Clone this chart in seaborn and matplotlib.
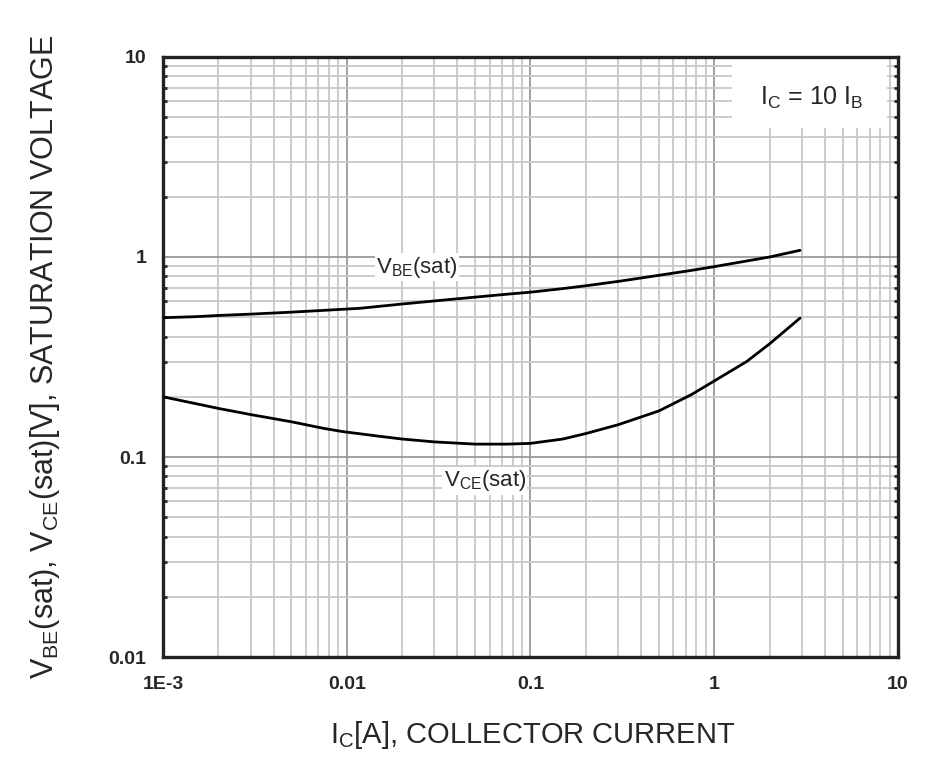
import numpy as np
import pandas as pd
import matplotlib
matplotlib.use("Agg")
import matplotlib.pyplot as plt
import matplotlib.ticker as mticker
from matplotlib.patches import Rectangle
import seaborn as sns

# ---------------------------------------------------------
# data (Ic = 10 Ib)
# ---------------------------------------------------------
ic_vbe = [0.001, 0.0015, 0.002, 0.003, 0.005, 0.0075, 0.0118, 0.02, 0.03, 0.05,
          0.075, 0.1, 0.15, 0.2, 0.3, 0.5, 0.75, 1.0, 1.5, 2.0, 2.93]
vbe_sat = [0.497, 0.503, 0.51, 0.518, 0.53, 0.541, 0.554, 0.582, 0.603, 0.63,
           0.652, 0.667, 0.695, 0.718, 0.755, 0.81, 0.857, 0.895, 0.955, 1.0, 1.08]

ic_vce = [0.001, 0.0015, 0.002, 0.003, 0.005, 0.0075, 0.0095, 0.015, 0.02, 0.03,
          0.05, 0.075, 0.1, 0.15, 0.2, 0.3, 0.5, 0.75, 1.0, 1.5, 2.0, 2.93]
vce_sat = [0.2, 0.185, 0.175, 0.163, 0.15, 0.139, 0.134, 0.127, 0.123, 0.119,
           0.116, 0.116, 0.117, 0.123, 0.131, 0.145, 0.17, 0.205, 0.24, 0.30, 0.368, 0.495]

x_ticks = [0.001, 0.01, 0.1, 1, 10]
x_labels = ["1E-3", "0.01", "0.1", "1", "10"]
y_ticks = [0.01, 0.1, 1, 10]
y_labels = ["0.01", "0.1", "1", "10"]

# ---------------------------------------------------------
# style
# ---------------------------------------------------------
sns.set_style("white")
plt.rcParams["font.family"] = ["Liberation Sans", "DejaVu Sans"]
plt.rcParams["mathtext.fontset"] = "custom"
plt.rcParams["mathtext.rm"] = "Liberation Sans"
plt.rcParams["mathtext.it"] = "Liberation Sans"

df = pd.concat([
    pd.DataFrame({"Ic": ic_vbe, "V": vbe_sat, "curve": "VBE"}),
    pd.DataFrame({"Ic": ic_vce, "V": vce_sat, "curve": "VCE"}),
])

fig = plt.figure(figsize=(9.28, 7.67), dpi=100)
ax = fig.add_axes([0.1756, 0.1434, 0.7921, 0.7823])

sns.lineplot(data=df, x="Ic", y="V", hue="curve", palette=["black", "black"],
             linewidth=2.0, legend=False, ax=ax, zorder=3)

ax.set_xscale("log")
ax.set_yscale("log")
ax.set_xlim(0.001, 10)
ax.set_ylim(0.01, 10)

ax.set_xticks(x_ticks)
ax.set_xticklabels(x_labels)
ax.set_yticks(y_ticks)
ax.set_yticklabels(y_labels)
ax.xaxis.set_minor_locator(mticker.LogLocator(base=10, subs=np.arange(2, 10)))
ax.yaxis.set_minor_locator(mticker.LogLocator(base=10, subs=np.arange(2, 10)))
ax.xaxis.set_minor_formatter(mticker.NullFormatter())
ax.yaxis.set_minor_formatter(mticker.NullFormatter())

# grid
ax.set_axisbelow(True)
ax.grid(which="major", color="#9a9a9a", linewidth=1.3)
ax.grid(which="minor", color="#c8c8c8", linewidth=1.3)

# spines and ticks
for s in ax.spines.values():
    s.set_color("#222222")
    s.set_linewidth(2.4)

ax.tick_params(axis="x", which="both", length=0, pad=14)
ax.tick_params(axis="y", which="both", direction="in", length=3, width=2,
               right=True, left=True, pad=12)
ax.tick_params(axis="y", which="major", length=0)
for lab in ax.get_xticklabels() + ax.get_yticklabels():
    lab.set_fontweight("bold")
    lab.set_fontsize(14)

ax.set_xlabel("")
ax.set_ylabel("")

# condition box
ax.add_patch(Rectangle((0.774, 0.882), 0.211, 0.118, transform=ax.transAxes,
                       facecolor="white", edgecolor="none", zorder=1))
ax.text(0.883, 0.932, r"$\mathrm{I_C}$ = 10 $\mathrm{I_B}$", transform=ax.transAxes,
        ha="center", va="center", fontsize=18, zorder=4)

# curve labels
ax.text(0.0241, 0.891, r"$\mathrm{V_{BE}}$(sat)", ha="center", va="center",
        fontsize=16, zorder=4,
        bbox=dict(facecolor="white", edgecolor="none", pad=1))
ax.text(0.0565, 0.0759, r"$\mathrm{V_{CE}}$(sat)", ha="center", va="center",
        fontsize=16, zorder=4,
        bbox=dict(facecolor="white", edgecolor="none", pad=1))

# axis titles
fig.text(533 / 928, 1 - 735 / 767, r"$\mathrm{I_C}$[A], COLLECTOR CURRENT",
         ha="center", va="center", fontsize=21)
fig.text(45 / 928, 1 - 357 / 767,
         r"$\mathrm{V_{BE}}$(sat), $\mathrm{V_{CE}}$(sat)[V], SATURATION VOLTAGE",
         ha="center", va="center", rotation=90, fontsize=22)

fig.savefig("out.png", dpi=100, facecolor="white")
